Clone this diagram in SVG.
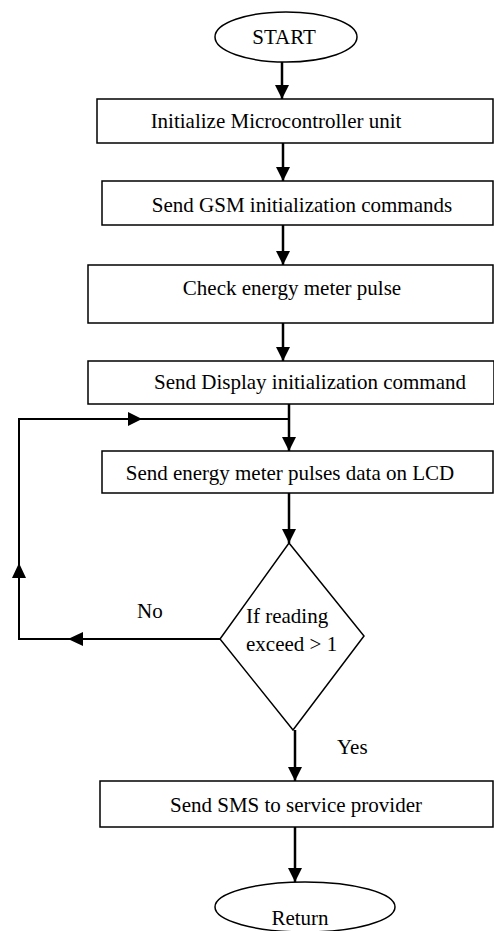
<svg xmlns="http://www.w3.org/2000/svg" width="494" height="931" viewBox="0 0 494 931">
<style>
  .box { fill: #fff; stroke: #000; stroke-width: 1.5; }
  .term { fill: #fff; stroke: #000; stroke-width: 1.5; }
  .t { font-family: "Liberation Serif", "Times New Roman", serif; font-size: 21px; fill: #000; }
  .mid { text-anchor: middle; }
  .flow { stroke: #000; stroke-width: 2.5; fill: none; }
  .loop { stroke: #000; stroke-width: 2; fill: none; }
  .head { fill: #000; }
</style>
<defs>
  <marker id="arr" markerUnits="userSpaceOnUse" markerWidth="14" markerHeight="14" refX="14" refY="7" orient="auto">
    <path d="M0,0 L14,7 L0,14 z" fill="#000"/>
  </marker>
</defs>
<rect width="494" height="931" fill="#fff"/>

<g id="connectors">
  <line class="flow" x1="282" y1="62" x2="282" y2="99" marker-end="url(#arr)"/>
  <line class="flow" x1="283" y1="143" x2="283" y2="181" marker-end="url(#arr)"/>
  <line class="flow" x1="283" y1="225" x2="283" y2="265" marker-end="url(#arr)"/>
  <line class="flow" x1="283" y1="323" x2="283" y2="361" marker-end="url(#arr)"/>
  <line class="flow" x1="289" y1="404" x2="289" y2="451" marker-end="url(#arr)"/>
  <line class="flow" x1="289" y1="493" x2="289" y2="543" marker-end="url(#arr)"/>
  <line class="flow" x1="295" y1="730" x2="295" y2="781" marker-end="url(#arr)"/>
  <line class="flow" x1="295" y1="827" x2="295" y2="882" marker-end="url(#arr)"/>
  <polyline class="loop" points="220,639 19,639 19,419 289,419"/>
  <polygon class="head" points="128,412 142,419 128,426"/>
  <polygon class="head" points="12,578 19,563 26,578"/>
  <polygon class="head" points="83,632 68,639 83,646"/>
</g>

<g id="start">
  <ellipse class="term" cx="286" cy="37" rx="71" ry="25"/>
  <text class="t mid" x="284" y="44">START</text>
</g>
<g id="init-mcu">
  <rect class="box" x="97" y="99" width="396" height="44"/>
  <text class="t mid" x="276" y="128">Initialize Microcontroller unit</text>
</g>
<g id="gsm-init">
  <rect class="box" x="102" y="181" width="391" height="44"/>
  <text class="t mid" x="302" y="212">Send GSM initialization commands</text>
</g>
<g id="check-pulse">
  <rect class="box" x="88" y="265" width="405" height="58"/>
  <text class="t mid" x="292" y="295">Check energy meter pulse</text>
</g>
<g id="display-init">
  <rect class="box" x="88" y="361" width="406" height="43"/>
  <text class="t mid" x="310" y="389">Send Display initialization command</text>
</g>
<g id="lcd-data">
  <rect class="box" x="102" y="451" width="391" height="42"/>
  <text class="t mid" x="290" y="480">Send energy meter pulses data on LCD</text>
</g>
<g id="decision">
  <polygon class="box" points="289,543 364,636 293,730 220,639"/>
  <text class="t" x="246" y="623">If reading</text>
  <text class="t" x="246" y="651">exceed &gt; 1</text>
  <text class="t" x="137" y="618">No</text>
  <text class="t" x="337" y="754">Yes</text>
</g>
<g id="send-sms">
  <rect class="box" x="100" y="781" width="393" height="46"/>
  <text class="t mid" x="296" y="812">Send SMS to service provider</text>
</g>
<g id="return">
  <ellipse class="term" cx="305" cy="907" rx="90" ry="25"/>
  <text class="t mid" x="300" y="925">Return</text>
</g>
</svg>
